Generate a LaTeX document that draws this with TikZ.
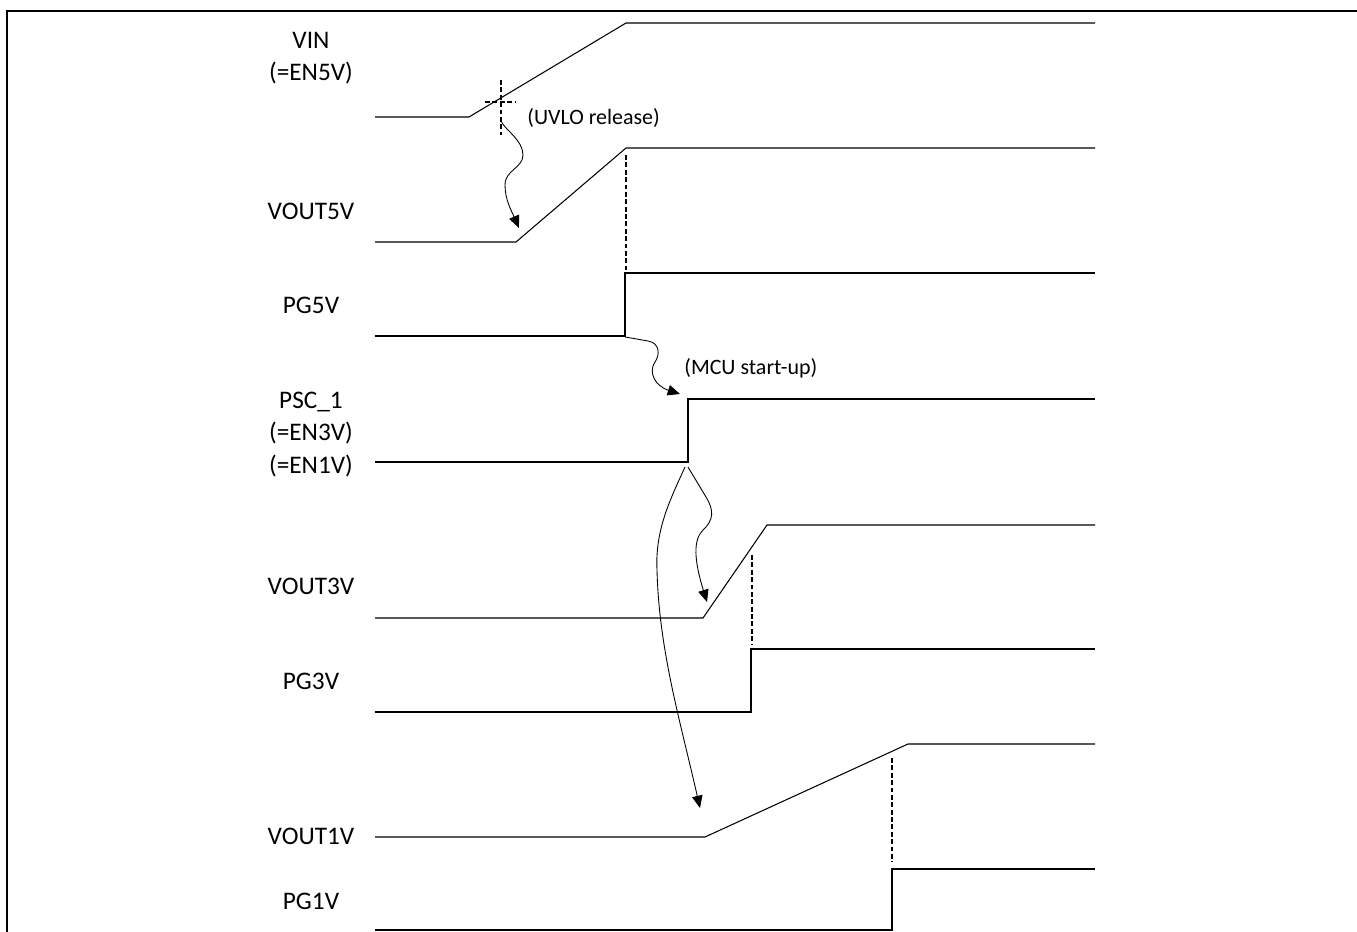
\documentclass[tikz,border=0pt]{standalone}
\usepackage{fontspec}
\setmainfont{Carlito}
\usetikzlibrary{arrows.meta}

\begin{document}
\begin{tikzpicture}[x=0.02cm,y=-0.02cm,
    sig/.style={line width=0.6pt},
    dashln/.style={line width=0.65pt,dash pattern=on 2.8pt off 1.4pt},
    wave/.style={line width=0.5pt,-{Triangle[length=7pt,width=6pt]}},
    lbl/.style={anchor=north,inner sep=0pt,align=center,font=\fontsize{14.4}{18.4}\selectfont},
    note/.style={anchor=base west,inner sep=0pt,font=\fontsize{12.5}{15}\selectfont}]

      \useasboundingbox (0,0) rectangle (1357,932);
      \draw[line width=1.2pt] (7,932) -- (7,11) -- (1357,11);

      \node[lbl] (VIN)  at (311, 31.7) {VIN\\(=EN5V)};
      \node[lbl] (V5)   at (311,203)   {VOUT5V};
      \node[lbl] (PG5)  at (311,297)   {PG5V};
      \node[lbl] (PSC)  at (311,391.7) {PSC\_1\\(=EN3V)\\(=EN1V)};
      \node[lbl] (V3)   at (311,578)   {VOUT3V};
      \node[lbl] (PG3)  at (311,673)   {PG3V};
      \node[lbl] (V1)   at (311,828)   {VOUT1V};
      \node[lbl] (PG1)  at (311,893)   {PG1V};

      \node[note] (UVLO) at (527,125) {(UVLO release)};
      \node[note] (MCU)  at (684,375) {(MCU start-up)};

      \draw[sig] (375,117) -- (469,117) -- (626,23) -- (1095,23);
      \draw[dashln] (501,80) -- (501,135);
      \draw[dashln] (485,102) -- (515,102);

      \draw[sig] (375,242) -- (516,242) -- (626,148) -- (1095,148);
      \draw[dashln] (626,155) -- (626,270);

      \draw[sig] (375,336) -- (625,336) -- (625,273) -- (1095,273);

      \draw[sig] (375,462) -- (688,462) -- (688,399) -- (1095,399);

      \draw[sig] (375,618) -- (703,618) -- (767,525) -- (1095,525);
      \draw[dashln] (752,555) -- (752,645);

      \draw[sig] (375,712) -- (751,712) -- (751,649) -- (1095,649);

      \draw[sig] (375,837) -- (705,837) -- (908,744) -- (1095,744);
      \draw[dashln] (892,758) -- (892,862);

      \draw[sig] (375,930) -- (892,930) -- (892,869) -- (1095,869);

      \coordinate (uvlo) at (501,121);
      \coordinate (v5on) at (519,228);
      \coordinate (pg5on) at (625,337);
      \coordinate (pscon) at (680,394);
      \coordinate (pscA) at (688,467);
      \coordinate (pscB) at (685,467);
      \coordinate (v3on) at (707,602);
      \coordinate (v1on) at (700,808);

      \draw[wave] (uvlo) .. controls (505,130) and (523,140) .. (523,155)
                  .. controls (523,168) and (505,170) .. (505,185)
                  .. controls (505,200) and (512,212) .. (v5on);
      \draw[wave] (pg5on) -- (648,341) .. controls (660,343) and (660,355) .. (655,362)
                  .. controls (648,372) and (655,386) .. (pscon);
      \draw[wave] (pscA) -- (706,497) .. controls (714,510) and (714,520) .. (703,530)
                  .. controls (693,540) and (694,560) .. (v3on);
      \draw[wave] (pscB) .. controls (670,500) and (655,530) .. (657,570)
                  .. controls (659,650) and (680,720) .. (v1on);
    \end{tikzpicture}
\end{document}
